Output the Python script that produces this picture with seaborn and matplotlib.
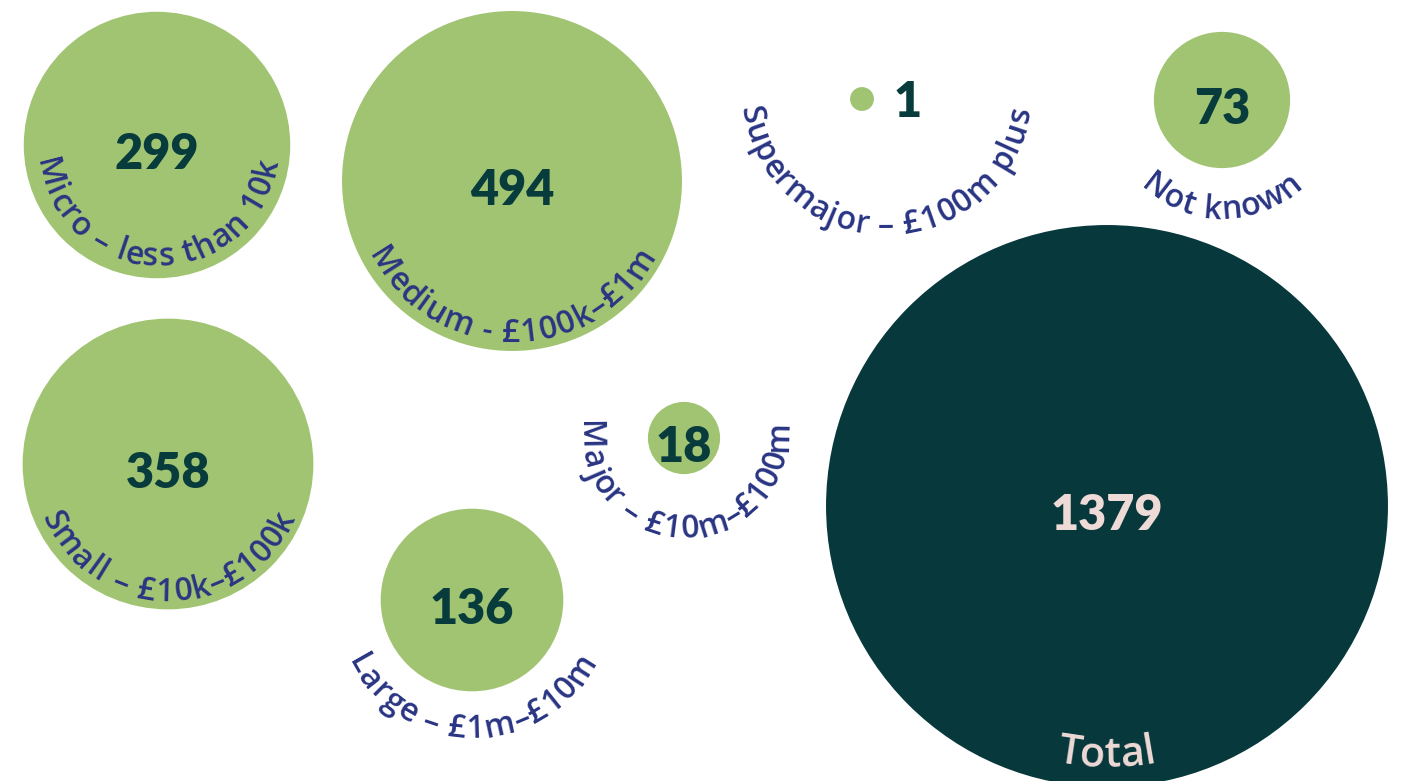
import numpy as np
import pandas as pd
import matplotlib
matplotlib.use("Agg")
import matplotlib.pyplot as plt
import seaborn as sns
from matplotlib.font_manager import FontProperties

# ---- data ----
categories = ["Micro – less than 10k", "Small – £10k–£100k", "Medium - £100k–£1m",
              "Large – £1m–£10m", "Major – £10m–£100m", "Supermajor – £100m plus",
              "Not known", "Total"]
counts = [299, 358, 494, 136, 18, 1, 73, 1379]
kinds = ["band", "band", "band", "band", "band", "band", "band", "total"]

# ---- layout (pixel positions of bubble centres and label arcs) ----
bubble_x = [157, 168, 512, 472, 684, 862, 1222, 1107]
bubble_y = [145, 464, 181, 600, 438, 99, 100, 506]
label_cx = [157, 168, 512, 472, 684, 885, 1222, 1107]
label_cy = [145, 464, 181, 600, 434, 89, 101, 506]
label_r = [121, 137, 161, 138, 104, 146, 118, 261]

GREEN = "#a1c473"
DARK = "#07383c"
NAVY = "#293583"
PINK = "#eedad6"
NUMDARK = "#083b3b"

W, H, DPI = 1404, 781, 100
sns.set_theme(style="white")
fig = plt.figure(figsize=(W / DPI, H / DPI), dpi=DPI)
ax = fig.add_axes([0, 0, 1, 1])

radius = [4.5 + 7.445 * np.sqrt(v) for v in counts]
sizes = [(2 * r * 72 / DPI) ** 2 for r in radius]
df = pd.DataFrame({"x": bubble_x, "y": bubble_y, "kind": kinds, "count": counts})
sns.scatterplot(data=df, x="x", y="y", hue="kind", palette={"band": GREEN, "total": DARK},
                s=sizes, linewidth=0, legend=False, ax=ax, alpha=1)
ax.set_xlim(0, W)
ax.set_ylim(H, 0)
ax.axis("off")

renderer = fig.canvas.get_renderer()


def char_width(ch, fp):
    w1, _, _ = renderer.get_text_width_height_descent("x" + ch + "x", fp, ismath=False)
    w0, _, _ = renderer.get_text_width_height_descent("xx", fp, ismath=False)
    return w1 - w0


def arc_text(text, cx, cy, R, fp, color, tracking, mid=90.0):
    widths = [char_width(c, fp) for c in text]
    adv = [w + tracking for w in widths]
    total = sum(adv) - tracking
    phi0 = np.radians(mid) + total / (2 * R)
    s = 0.0
    for c, w, a in zip(text, widths, adv):
        phi = phi0 - (s + w / 2) / R
        x = cx + R * np.cos(phi)
        y = cy + R * np.sin(phi)
        rot = 90 - np.degrees(phi)
        ax.text(x, y, c, fontproperties=fp, color=color, rotation=rot,
                rotation_mode="anchor", ha="center", va="baseline")
        s += a


label_fp = FontProperties(family="Open Sans", weight="semibold", size=23)
total_fp = FontProperties(family="Open Sans", weight="semibold", size=30)
num_fp = FontProperties(family="Lato", weight="heavy", size=35)

for i, (cat, v) in enumerate(zip(categories, counts)):
    if kinds[i] == "total":
        arc_text(cat, label_cx[i], label_cy[i], label_r[i], total_fp, PINK, 0.5)
        ax.text(bubble_x[i], bubble_y[i] + 24, str(v), fontproperties=num_fp,
                color=PINK, ha="center", va="baseline")
    else:
        arc_text(cat, label_cx[i], label_cy[i], label_r[i], label_fp, NAVY, 1.5)
        if v < 5:
            ax.text(bubble_x[i] + 46, bubble_y[i] + 18, str(v), fontproperties=num_fp,
                    color=NUMDARK, ha="center", va="baseline")
        else:
            ax.text(bubble_x[i], bubble_y[i] + 24, str(v), fontproperties=num_fp,
                    color=NUMDARK, ha="center", va="baseline")

fig.savefig("out.png", dpi=DPI, facecolor="white")
